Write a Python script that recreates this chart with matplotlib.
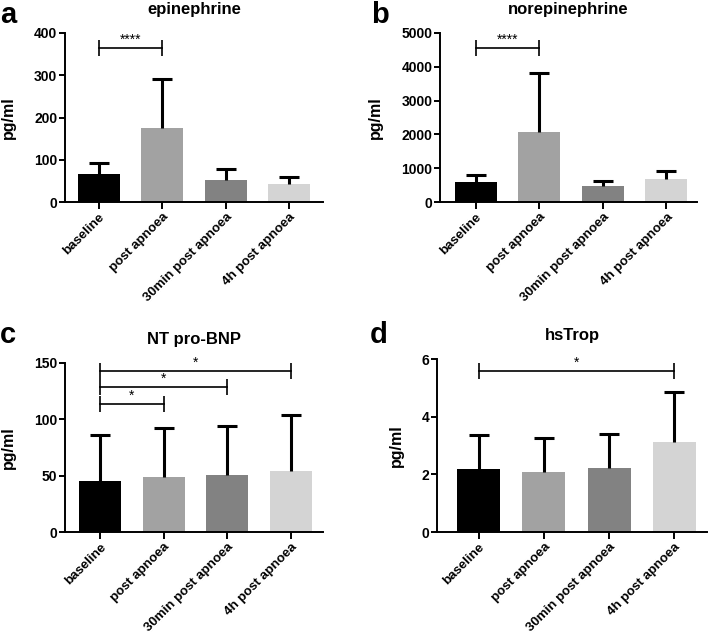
import numpy as np
import matplotlib
matplotlib.use("Agg")
import matplotlib.pyplot as plt

plt.rcParams['font.family'] = ['Liberation Sans', 'DejaVu Sans']
plt.rcParams['font.weight'] = 'bold'

categories = ["baseline", "post apnoea", "30min post apnoea", "4h post apnoea"]
bar_colors = ["#000000", "#a2a2a2", "#828282", "#d4d4d4"]

epi_mean = [67, 174, 51, 43]
epi_sd = [25, 116, 28, 17]
norepi_mean = [580, 2060, 470, 680]
norepi_sd = [210, 1760, 150, 250]
bnp_mean = [45, 49, 50.5, 54.5]
bnp_sd = [41, 43.5, 44, 49.5]
trop_mean = [2.19, 2.09, 2.21, 3.11]
trop_sd = [1.16, 1.17, 1.18, 1.75]

# (from, to, label, height)
epi_sig = [(0, 1, "****", 365)]
norepi_sig = [(0, 1, "****", 4560)]
bnp_sig = [(0, 1, "*", 113.5), (0, 2, "*", 128.3), (0, 3, "*", 143)]
trop_sig = [(0, 3, "*", 5.58)]

# letter, title, mean, sd, brackets, yticks, axes box (px: l, t, r, b), xlim, letter pos
panels = [
    ("a", "epinephrine", epi_mean, epi_sd, epi_sig, [0, 100, 200, 300, 400],
     [65, 33, 323, 202], (-0.53, 3.53), (0, 23)),
    ("b", "norepinephrine", norepi_mean, norepi_sd, norepi_sig,
     [0, 1000, 2000, 3000, 4000, 5000], [440, 33, 697, 202], (-0.56, 3.48), (371, 23)),
    ("c", "NT pro-BNP", bnp_mean, bnp_sd, bnp_sig, [0, 50, 100, 150],
     [65, 363, 323, 532], (-0.55, 3.5), (0, 343)),
    ("d", "hsTrop", trop_mean, trop_sd, trop_sig, [0, 2, 4, 6],
     [437, 359, 707, 532], (-0.64, 3.5), (370, 343)),
]

W, H = 709, 633
fig = plt.figure(figsize=(W / 100, H / 100), dpi=100)

for letter, title, mean, sd, sig, yticks, box, xlim, lpos in panels:
    l, t, r, b = box
    ax = fig.add_axes([l / W, 1 - b / H, (r - l) / W, (b - t) / H])
    x = np.arange(len(categories))
    ax.bar(x, mean, width=0.66, color=bar_colors, zorder=2)
    eb = ax.errorbar(x, mean, yerr=[np.zeros(len(sd)), sd], fmt='none', ecolor='k',
                     elinewidth=2.2, capsize=7.5, capthick=2.2, zorder=3)
    eb[1][0].set_visible(False)  # no cap at the bar top

    ax.set_xlim(*xlim)
    ax.set_ylim(0, yticks[-1])
    ax.set_yticks(yticks)
    ax.set_xticks(x)
    ax.set_xticklabels(categories, rotation=45, ha='right', rotation_mode='anchor',
                       fontsize=9.5, fontweight='bold')
    ax.tick_params(axis='y', labelsize=10, length=4, width=1.4, pad=1.5)
    ax.tick_params(axis='x', length=5, width=1.4, pad=1.5)
    for lab in ax.get_yticklabels():
        lab.set_fontweight('bold')
    for s in ['top', 'right']:
        ax.spines[s].set_visible(False)
    for s in ['left', 'bottom']:
        ax.spines[s].set_linewidth(1.4)
    ax.set_ylabel("pg/ml", fontsize=11.5, fontweight='bold', labelpad=13)
    ax.set_title(title, fontsize=12, fontweight='bold', pad=14)
    fig.text(lpos[0] / W, 1 - lpos[1] / H, letter, fontsize=21, fontweight='bold',
             va='baseline', ha='left')

    # significance brackets
    for i0, i1, lab, yb in sig:
        ax.plot([x[i0], x[i1]], [yb, yb], color='k', lw=1.2, clip_on=False, zorder=4)
        ax.plot([x[i0], x[i1]], [yb, yb], ls='none', marker='|', markersize=12,
                markeredgewidth=1.2, color='k', clip_on=False, zorder=4)
        ax.annotate(lab, xy=((x[i0] + x[i1]) / 2, yb), xytext=(0, 1),
                    textcoords='offset points', ha='center', va='bottom',
                    fontsize=10, fontweight='normal', annotation_clip=False)

fig.savefig("out.png", dpi=100)
